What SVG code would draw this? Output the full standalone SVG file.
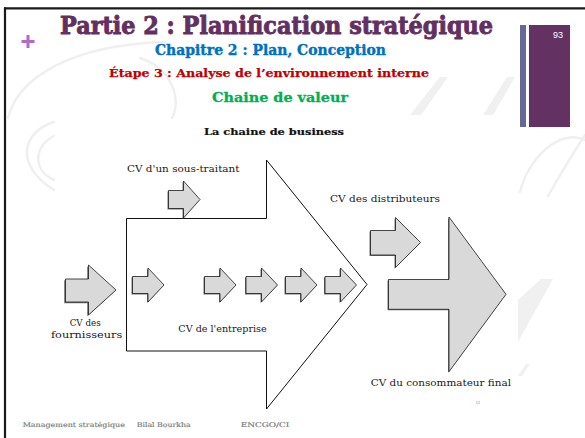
<svg xmlns="http://www.w3.org/2000/svg" width="585" height="438" viewBox="0 0 585 438">
<style>
.wm{fill:none;stroke:#efefef;stroke-width:2.5;stroke-linecap:round}
.wmf{fill:#f0f0f0}
.ar{fill:#d9d9d9;stroke:#1a1a1a;stroke-width:0.8}
.sh{fill:#6e6e6e}
.lbl{font-family:"DejaVu Serif","Liberation Serif",serif;font-size:10px;fill:#1a1a1a}
.hd{font-family:"DejaVu Serif","Liberation Serif",serif;font-weight:bold}
.ft{font-family:"DejaVu Serif","Liberation Serif",serif;font-size:6.5px;fill:#7a7a7a;stroke:#7a7a7a;stroke-width:0.15}
</style>
<defs>
<path id="sa" d="M0,-8.5 H15.5 V-17 L31.5,0 L15.5,17 V8.5 H0 Z"/>
</defs>
<rect x="0" y="0" width="585" height="438" fill="#ffffff"/>
<g id="watermark">
<path class="wm" d="M8,118 C18,78 70,45 165,42"/>
<path class="wm" d="M140,58 C172,68 182,100 172,118"/>
<path class="wm" d="M54,122 C22,132 14,165 54,190"/>
<path class="wm" d="M54,136 C34,146 32,170 54,180"/>
<polygon class="wmf" points="410,115 440,77 448,77 421,115"/>
<polygon class="wmf" points="483,115 507,77 515,77 493,115"/>
<path class="wm" stroke-width="6" d="M585,140 C560,128 528,158 520,192"/>
<path class="wm" stroke-width="5" d="M548,196 C560,175 572,155 585,135"/>
<polygon class="wmf" points="541,279 553,279 518,342 518,300"/>
<polygon class="wmf" points="518,376 522,376 530,364 526,364"/>
</g>
<g id="frame">
<line x1="4" y1="8.3" x2="585" y2="8.3" stroke="#1a1a1a" stroke-width="2.2"/>
<line x1="5" y1="7.3" x2="5" y2="438" stroke="#1a1a1a" stroke-width="2.2"/>
<rect x="520" y="25" width="6" height="102" fill="#676798"/>
<rect x="529" y="25" width="41" height="102" fill="#643262"/>
<text x="563" y="38.3" text-anchor="end" font-family="Liberation Sans, Arial, sans-serif" font-size="9" fill="#ffffff">93</text>
<path d="M28,35 V48 M21.5,41.5 H34.5" stroke="#b469c8" stroke-width="3"/>
</g>
<g id="header">
<text class="hd" x="60" y="33.5" font-size="24" fill="#632f61" stroke="#632f61" stroke-width="0.9" textLength="433" lengthAdjust="spacingAndGlyphs">Partie 2 : Planification stratégique</text>
<text class="hd" x="155" y="55" font-size="14.5" fill="#0070c0" stroke="#0070c0" stroke-width="0.4" textLength="231" lengthAdjust="spacingAndGlyphs">Chapitre 2 : Plan, Conception</text>
<text class="hd" x="109" y="77" font-size="11" fill="#c00000" stroke="#c00000" stroke-width="0.25" textLength="320" lengthAdjust="spacingAndGlyphs">Étape 3 : Analyse de l’environnement interne</text>
<text class="hd" x="212" y="101.5" font-size="13.5" fill="#00b050" stroke="#00b050" stroke-width="0.3" textLength="136" lengthAdjust="spacingAndGlyphs">Chaine de valeur</text>
</g>
<text class="hd" x="204" y="135" font-size="10" fill="#111" stroke="#111" stroke-width="0.2" textLength="140" lengthAdjust="spacingAndGlyphs">La chaine de business</text>
<g id="connectors"></g>
<g id="cv-entreprise">
<polygon points="126.5,218.5 266.5,218.5 266.5,160 367,284.5 266.5,409 266.5,351 126.5,351" fill="#ffffff" stroke="#111" stroke-width="1"/>
<text class="lbl" x="178.3" y="331.7" textLength="88.4" lengthAdjust="spacingAndGlyphs">CV de l'entreprise</text>
</g>
<g id="cv-fournisseurs">
<path class="sh" transform="translate(-1.3,1.3)" d="M65.5,279 H88.5 V265 L116,290 L88.5,315 V302 H65.5 Z"/>
<path class="ar" d="M65.5,279 H88.5 V265 L116,290 L88.5,315 V302 H65.5 Z"/>
<text class="lbl" x="85.2" y="325.7" text-anchor="middle" textLength="31" lengthAdjust="spacingAndGlyphs">CV des</text>
<text class="lbl" x="86.6" y="338.3" text-anchor="middle" textLength="71.3" lengthAdjust="spacingAndGlyphs">fournisseurs</text>
</g>
<g id="cv-sous-traitant">
<path class="sh" transform="translate(-1,1)" d="M168.5,190.5 H183.5 V181 L200,199.5 L183.5,218 V208.5 H168.5 Z"/>
<path class="ar" d="M168.5,190.5 H183.5 V181 L200,199.5 L183.5,218 V208.5 H168.5 Z"/>
<text class="lbl" x="127" y="172" textLength="112.5" lengthAdjust="spacingAndGlyphs">CV d'un sous-traitant</text>
</g>
<g id="activite-1" transform="translate(132.5,285)"><use href="#sa" class="sh" transform="translate(-1,1)"/><use href="#sa" class="ar"/></g>
<g id="activite-2" transform="translate(204.5,285)"><use href="#sa" class="sh" transform="translate(-1,1)"/><use href="#sa" class="ar"/></g>
<g id="activite-3" transform="translate(246,285)"><use href="#sa" class="sh" transform="translate(-1,1)"/><use href="#sa" class="ar"/></g>
<g id="activite-4" transform="translate(285.5,285)"><use href="#sa" class="sh" transform="translate(-1,1)"/><use href="#sa" class="ar"/></g>
<g id="activite-5" transform="translate(325,285)"><use href="#sa" class="sh" transform="translate(-1,1)"/><use href="#sa" class="ar"/></g>
<g id="cv-distributeurs">
<path class="sh" transform="translate(-1,1)" d="M370.5,230.5 H395.5 V217.5 L420.5,242.5 L395.5,267.5 V255 H370.5 Z"/>
<path class="ar" d="M370.5,230.5 H395.5 V217.5 L420.5,242.5 L395.5,267.5 V255 H370.5 Z"/>
<text class="lbl" x="330" y="202.3" textLength="110" lengthAdjust="spacingAndGlyphs">CV des distributeurs</text>
</g>
<g id="cv-consommateur">
<path class="sh" transform="translate(-1,1)" d="M388.5,279.5 H449 V217 L506,294.3 L449,371.7 V309.3 H388.5 Z"/>
<path class="ar" d="M388.5,279.5 H449 V217 L506,294.3 L449,371.7 V309.3 H388.5 Z"/>
<text class="lbl" x="370.7" y="385.7" textLength="140.3" lengthAdjust="spacingAndGlyphs">CV du consommateur final</text>
</g>
<text x="475.5" y="404" font-family="Liberation Sans, sans-serif" font-size="4" fill="#999">14</text>
<g id="footer">
<text class="ft" x="22.7" y="426.5" textLength="102.3" lengthAdjust="spacingAndGlyphs">Management stratégique</text>
<text class="ft" x="136.7" y="426.5" textLength="54" lengthAdjust="spacingAndGlyphs">Bilal Bourkha</text>
<text class="ft" x="240.7" y="426.5" textLength="48.6" lengthAdjust="spacingAndGlyphs">ENCGO/CI</text>
</g>
</svg>
